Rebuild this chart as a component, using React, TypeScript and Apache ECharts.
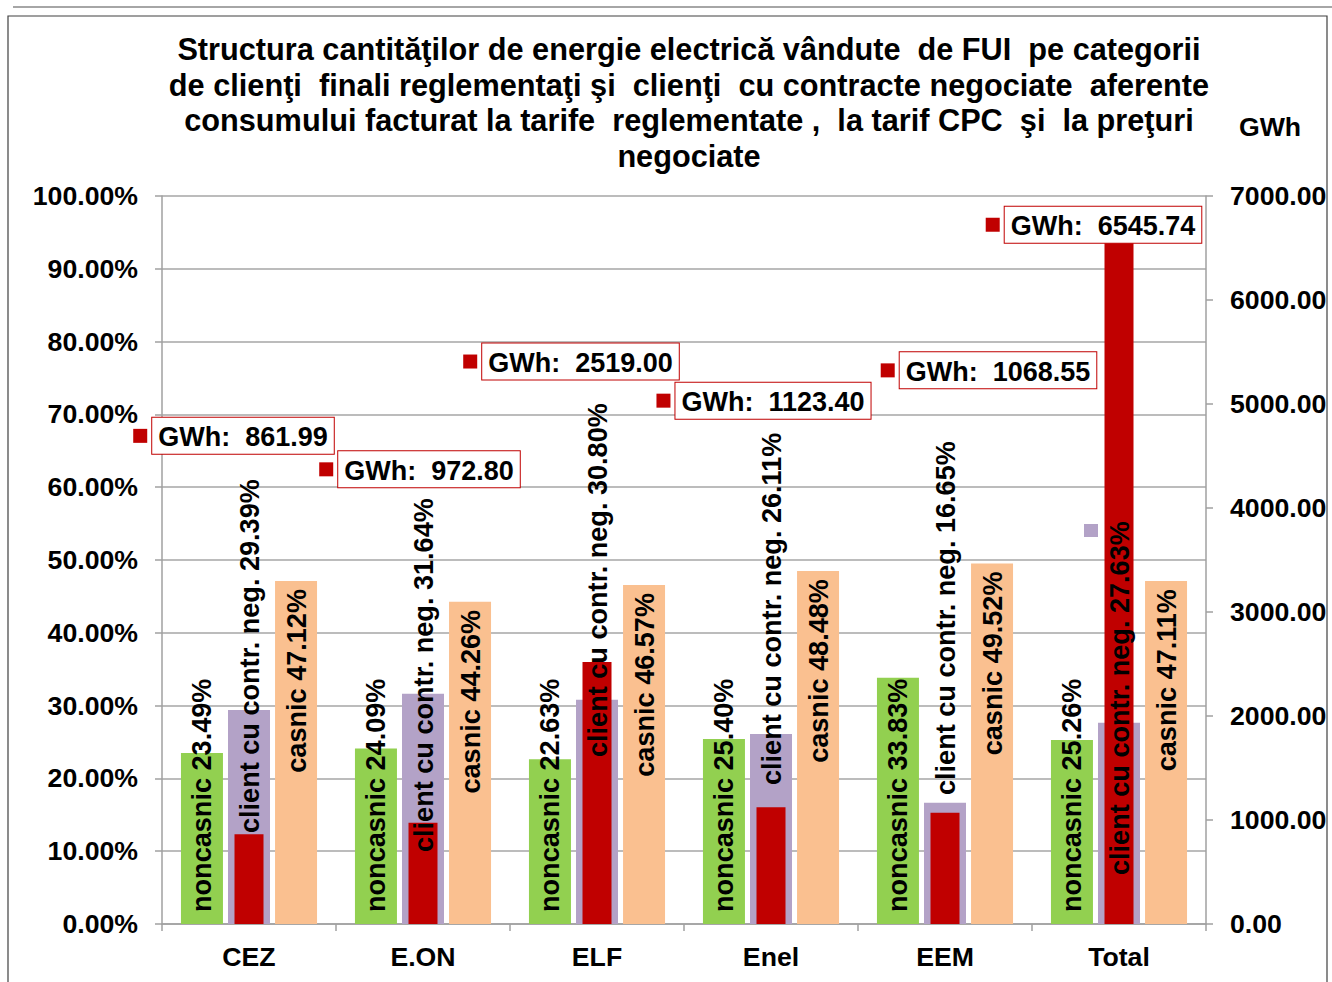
import React, { useEffect, useRef } from "react";
import * as echarts from "echarts";

const categories = ["CEZ", "E.ON", "ELF", "Enel", "EEM", "Total"];
const noncasnic = [23.49, 24.09, 22.63, 25.4, 33.83, 25.26];
const clientNeg = [29.39, 31.64, 30.8, 26.11, 16.65, 27.63];
const casnic = [47.12, 44.26, 46.57, 48.48, 49.52, 47.11];
const gwh = [861.99, 972.8, 2519.0, 1123.4, 1068.55, 6545.74];

const seriesNames = ["noncasnic", "client cu contr. neg.", "casnic", "GWh"];

// manual label placements (as in the original)
const negLabelLift = [91, 72, 167, 139, 129, 49];
const gwhLabelOffsets = [
  [-15.5, -383],
  [-3.5, -338],
  [-26, -285],
  [-7.5, -391],
  [43.5, -427],
  [-25.5, -3],
];

const titleLines = [
  "Structura cantităţilor de energie electrică vândute  de FUI  pe categorii",
  "de clienţi  finali reglementaţi şi  clienţi  cu contracte negociate  aferente",
  "consumului facturat la tarife  reglementate ,  la tarif CPC  şi  la preţuri",
  "negociate",
];

const FONT = "'Liberation Sans', Arial, sans-serif";
const FS = 26.67;
const LFS = 27.1;

export default function App() {
  const ref = useRef<HTMLDivElement>(null);

  useEffect(() => {
    document.body.style.margin = "0";
    if (!ref.current) return;
    const chart = echarts.init(ref.current, undefined, { renderer: "svg" });

    const pctLabel = {
      show: true,
      rotate: 90,
      color: "#000",
      fontFamily: FONT,
      fontSize: LFS,
      fontWeight: "bold" as const,
      verticalAlign: "middle" as const,
    };

    const option: any = {
      animation: false,
      backgroundColor: "#fff",
      title: {
        text: titleLines.join("\n"),
        left: 684,
        top: 27,
        textAlign: "center",
        textStyle: {
          fontFamily: FONT,
          fontSize: 30.7,
          fontWeight: "bold",
          color: "#000",
          lineHeight: 35.5,
        },
      },
      grid: { left: 162, right: 126, top: 196, bottom: 58, containLabel: false },
      xAxis: [
        {
          type: "category",
          data: categories,
          axisLine: { lineStyle: { color: "#a0a0a0", width: 1.5 } },
          axisTick: { show: true, length: 7, lineStyle: { color: "#a0a0a0", width: 1.5 } },
          axisLabel: {
            color: "#000",
            fontFamily: FONT,
            fontSize: FS,
            fontWeight: "bold",
            margin: 19,
          },
        },
        {
          type: "category",
          data: categories,
          show: false,
        },
      ],
      yAxis: [
        {
          type: "value",
          min: 0,
          max: 100,
          interval: 10,
          axisLine: { show: true, lineStyle: { color: "#a0a0a0", width: 1.5 } },
          axisTick: { show: true, length: 7, lineStyle: { color: "#a0a0a0", width: 1.5 } },
          splitLine: { show: true, lineStyle: { color: "#a6a6a6", width: 1.5 } },
          axisLabel: {
            color: "#000",
            fontFamily: FONT,
            fontSize: FS,
            fontWeight: "bold",
            margin: 24,
            formatter: (v: number) => v.toFixed(2) + "%",
          },
        },
        {
          type: "value",
          min: 0,
          max: 7000,
          interval: 1000,
          position: "right",
          axisLine: { show: true, lineStyle: { color: "#a0a0a0", width: 1.5 } },
          axisTick: { show: true, length: 7, lineStyle: { color: "#a0a0a0", width: 1.5 } },
          splitLine: { show: false },
          axisLabel: {
            color: "#000",
            fontFamily: FONT,
            fontSize: FS,
            fontWeight: "bold",
            margin: 24,
            formatter: (v: number) => v.toFixed(2),
          },
        },
      ],
      series: [
        {
          name: seriesNames[0],
          type: "bar",
          xAxisIndex: 0,
          yAxisIndex: 0,
          barWidth: 42,
          barGap: "12%",
          itemStyle: { color: "#92d050" },
          label: {
            ...pctLabel,
            position: "insideBottom",
            distance: 12,
            align: "left",
            formatter: (p: any) => `${p.seriesName} ${p.value.toFixed(2)}%`,
          },
          data: noncasnic,
        },
        {
          name: seriesNames[1],
          type: "bar",
          xAxisIndex: 0,
          yAxisIndex: 0,
          barWidth: 42,
          barGap: "12%",
          itemStyle: { color: "#b3a2c7" },
          data: clientNeg.map((v, i) => ({
            value: v,
            label: {
              ...pctLabel,
              position: "insideBottom",
              distance: negLabelLift[i],
              align: "left",
              formatter: (p: any) => `${p.seriesName} ${p.value.toFixed(2)}%`,
            },
          })),
        },
        {
          name: seriesNames[2],
          type: "bar",
          xAxisIndex: 0,
          yAxisIndex: 0,
          barWidth: 42,
          barGap: "12%",
          itemStyle: { color: "#fac090" },
          label: {
            ...pctLabel,
            position: "insideTop",
            distance: 8,
            align: "right",
            formatter: (p: any) => `${p.seriesName} ${p.value.toFixed(2)}%`,
          },
          data: casnic,
        },
        {
          name: seriesNames[3],
          type: "bar",
          xAxisIndex: 1,
          yAxisIndex: 1,
          barWidth: 29,
          itemStyle: { color: "#c00000" },
          data: gwh.map((v, i) => ({
            value: v,
            label: {
              show: true,
              position: "top",
              distance: 0,
              offset: gwhLabelOffsets[i],
              formatter: (p: any) => `{k|}{g|}{b|GWh:  ${p.value.toFixed(2)}}`,
              rich: {
                k: { width: 14, height: 14, backgroundColor: "#c00000" },
                g: { width: 5, height: 14 },
                b: {
                  color: "#000",
                  fontFamily: FONT,
                  fontSize: 27,
                  fontWeight: "bold",
                  lineHeight: 31,
                  padding: [6, 6, 3, 6],
                  borderColor: "#c00000",
                  borderWidth: 1,
                  backgroundColor: "#fff",
                },
              },
            },
          })),
        },
      ],
      graphic: [
        {
          type: "line",
          shape: { x1: 13, y1: 7, x2: 1332, y2: 7 },
          style: { stroke: "#a6a6a6", lineWidth: 2 },
          silent: true,
        },
        {
          type: "rect",
          shape: { x: 8, y: 16, width: 1319, height: 980 },
          style: { fill: "none", stroke: "#404040", lineWidth: 1.2 },
          silent: true,
        },
        {
          type: "text",
          x: 1270,
          y: 127,
          style: {
            text: "GWh",
            fill: "#000",
            font: `bold ${FS}px ${FONT}`,
            textAlign: "center",
            textVerticalAlign: "middle",
          },
          silent: true,
        },
        {
          type: "rect",
          shape: { x: 1084, y: 524, width: 14, height: 13 },
          style: { fill: "#b3a2c7" },
          silent: true,
        },
      ],
    };

    chart.setOption(option);
    return () => chart.dispose();
  }, []);

  return <div ref={ref} style={{ width: 1332, height: 982 }} />;
}
